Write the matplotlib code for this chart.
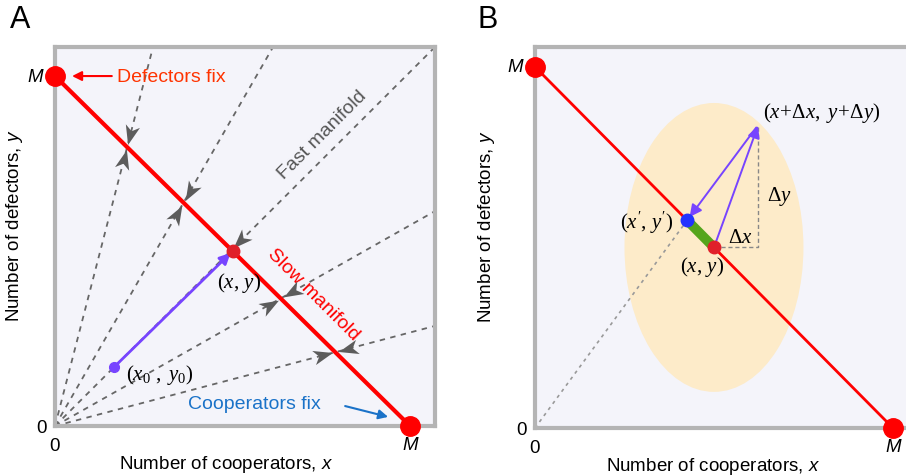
import matplotlib
matplotlib.use("Agg")
import matplotlib.pyplot as plt
from matplotlib.path import Path
from matplotlib.markers import MarkerStyle
from matplotlib.transforms import Affine2D
from matplotlib.patches import Ellipse
import numpy as np

plt.rcParams['font.family'] = ['Liberation Sans', 'DejaVu Sans']
plt.rcParams['mathtext.fontset'] = 'custom'
plt.rcParams['mathtext.rm'] = 'Liberation Serif'
plt.rcParams['mathtext.it'] = 'Liberation Serif:italic'
plt.rcParams['mathtext.sf'] = 'Liberation Sans:italic'

# fast-manifold rays (end points, M = 1)
ray_end_x = [0.276, 0.614, 1.07, 1.07, 1.07]
ray_end_y = [1.083, 1.083, 1.083, 0.614, 0.286]
# start / end of the trajectory in panel A
x0, y0 = 0.167, 0.169
xs, ys = 0.5, 0.5
# panel B points
xd, yd = 0.623, 0.837        # (x+dx, y+dy)
xp, yp = 0.425, 0.575        # (x', y')

bg = '#f4f4fa'
frame = '#b4b4b4'
red = '#ff0000'
purple = '#7744ff'
gray = '#5c5c5c'

# barbed arrow-head marker
head = Path([(1, 0), (-1, 0.75), (-0.45, 0), (-1, -0.75), (1, 0)],
            [Path.MOVETO, Path.LINETO, Path.LINETO, Path.LINETO, Path.CLOSEPOLY])


def head_marker(angle):
    return MarkerStyle(head, transform=Affine2D().rotate_deg(angle))


def style_ax(ax, ymax, xlab_pos, ylab_x):
    ax.set_facecolor(bg)
    for s in ax.spines.values():
        s.set_color(frame)
        s.set_linewidth(3)
    ax.set_xlim(0, 1.07)
    ax.set_ylim(0, ymax)
    ax.set_xticks([0])
    ax.set_xticklabels(['0'])
    ax.set_yticks([0])
    ax.set_yticklabels(['0'])
    ax.tick_params(length=0, labelsize=13.5)
    ax.tick_params(axis='x', pad=8)
    ax.tick_params(axis='y', pad=6)
    ax.set_xlabel(r'Number of cooperators, $\mathsf{x}$', fontsize=13.5)
    ax.set_ylabel(r'Number of defectors, $\mathsf{y}$', fontsize=13.5)
    ax.xaxis.set_label_coords(xlab_pos, -0.07)
    ax.yaxis.set_label_coords(ylab_x, 0.53)
    # the "M" ends of both axes
    ax.annotate('M', xy=(0, 1), xytext=(-12, 0), textcoords='offset pixels',
                fontsize=13.5, style='italic', ha='right', va='center')
    ax.annotate('M', xy=(1, 0), xytext=(0, -19), textcoords='offset pixels',
                fontsize=13.5, style='italic', ha='center', va='center', annotation_clip=False)


fig = plt.figure(figsize=(9.06, 4.77), dpi=100)

# ---------------- panel A ----------------
ax = fig.add_axes([55 / 906, 50 / 477, 380 / 906, 379 / 477])
style_ax(ax, 1.083, 0.45, -0.078)

for i in range(len(ray_end_x)):
    ex, ey = ray_end_x[i], ray_end_y[i]
    ax.plot([0, ex], [0, ey], color='#666666', lw=1.3, dashes=(3, 3), zorder=2)
    d = np.array([ex, ey]) / np.hypot(ex, ey)
    t = 1 / (d[0] + d[1])
    p = d * t
    ang = np.degrees(np.arctan2(d[1], d[0]))
    off = 0.036
    po = p + d * off
    ax.plot(po[0], po[1], marker=head_marker(ang + 180), ms=14, color=gray, mec='none', zorder=4)
    if i != 2:
        pi = p - d * off
        ax.plot(pi[0], pi[1], marker=head_marker(ang), ms=14, color=gray, mec='none', zorder=4)

ax.plot([0, 1], [1, 0], color=red, lw=3, zorder=3)
ax.annotate('', xy=(xs, ys), xytext=(x0, y0),
            arrowprops=dict(arrowstyle='-|>', color=purple, lw=2, mutation_scale=16,
                            shrinkA=0, shrinkB=2), zorder=5)
ax.plot(x0, y0, 'o', color=purple, ms=7, zorder=6)
ax.plot([0, 1], [1, 0], 'o', color=red, ms=14, clip_on=False, zorder=7)
ax.plot(xs, ys, 'o', color='#e0202a', ms=9, zorder=7)

ax.text(0.175, 1.0, 'Defectors fix', color='#ff3300', fontsize=14, ha='left', va='center')
ax.annotate('', xy=(0.048, 1.0), xytext=(0.16, 1.0),
            arrowprops=dict(arrowstyle='-|>', color=red, lw=1.5, mutation_scale=14,
                            shrinkA=0, shrinkB=0))
ax.text(0.375, 0.063, 'Cooperators fix', color='#1a72c8', fontsize=14, ha='left', va='center')
ax.annotate('', xy=(0.938, 0.026), xytext=(0.817, 0.057),
            arrowprops=dict(arrowstyle='-|>', color='#1a72c8', lw=1.5, mutation_scale=14,
                            shrinkA=0, shrinkB=0))
ax.text(0.752, 0.834, 'Fast manifold', color='#555555', fontsize=14, rotation=45,
        rotation_mode='anchor', ha='center', va='center')
ax.text(0.727, 0.377, 'Slow manifold', color=red, fontsize=14, rotation=-45,
        rotation_mode='anchor', ha='center', va='center')
ax.text(0.518, 0.411, r'$(x,\, y)$', fontsize=15, ha='center', va='center')
ax.text(0.296, 0.149, r'$(x_0\ ,\ y_0)$', fontsize=15, ha='center', va='center')

# ---------------- panel B ----------------
bx = fig.add_axes([535 / 906, 48 / 477, 383 / 906, 381 / 477])
style_ax(bx, 1.055, 0.465, -0.1)

bx.add_patch(Ellipse((0.5, 0.5), 0.5, 0.8, color='#fdebc9', lw=0, zorder=1))
bx.plot([0, xp], [0, yp], color='#999999', lw=1.2, dashes=(2, 2.5), zorder=2)
bx.plot([0, 1], [1, 0], color=red, lw=2, zorder=3)
bx.plot([xs, xp], [ys, yp], color='#55a51c', lw=7, solid_capstyle='butt', zorder=4)
bx.plot([xs, xd, xd], [ys, ys, yd], color='#888888', lw=1, dashes=(3, 2), zorder=2)
bx.annotate('', xy=(xd, yd), xytext=(xs, ys),
            arrowprops=dict(arrowstyle='-|>', color=purple, lw=1.4, mutation_scale=18,
                            shrinkA=0, shrinkB=0), zorder=5)
bx.annotate('', xy=(xp, yp), xytext=(xd - 0.005, yd - 0.005),
            arrowprops=dict(arrowstyle='-|>', color=purple, lw=1.4, mutation_scale=18,
                            shrinkA=0, shrinkB=3), zorder=5)
bx.plot(xp, yp, 'o', color='#2233ff', ms=9, zorder=6)
bx.plot(xs, ys, 'o', color='#e0202a', ms=9, zorder=6)
bx.plot([0, 1], [1, 0], 'o', color=red, ms=14, clip_on=False, zorder=7)

bx.text(0.637, 0.875, r'$(x\!+\!\Delta x,\ y\!+\!\Delta y)$', fontsize=15, ha='left', va='center')
bx.text(0.684, 0.643, r'$\Delta y$', fontsize=15, ha='center', va='center')
bx.text(0.573, 0.529, r'$\Delta x$', fontsize=15, ha='center', va='center')
bx.text(0.313, 0.571, r"$(x',\, y')$", fontsize=15, ha='center', va='center')
bx.text(0.466, 0.449, r'$(x,\, y)$', fontsize=15, ha='center', va='center')

fig.text(10 / 906, 1 - 20 / 477, 'A', fontsize=22, ha='left', va='center')
fig.text(477 / 906, 1 - 20 / 477, 'B', fontsize=22, ha='left', va='center')

fig.savefig('out.png', dpi=100)
